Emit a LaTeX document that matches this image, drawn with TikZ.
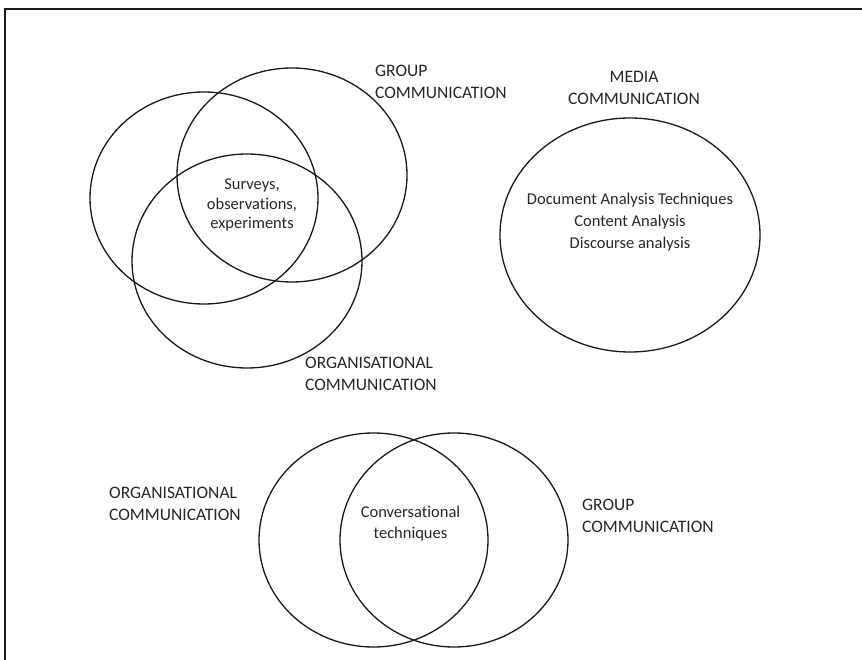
\documentclass[tikz,border=0pt]{standalone}
\usepackage{fontspec}
\setmainfont{Carlito}[Ligatures=NoCommon]
\usepackage{tikz}
\usetikzlibrary{positioning}

\tikzset{
  venn/.style={line width=1.3pt, black!90},
  label/.style={font=\fontsize{17.5}{22}\selectfont, align=left, anchor=north west, inner sep=0pt, text=black!85},
  inside/.style={font=\fontsize{16.5}{22}\selectfont, align=center, anchor=north, inner sep=0pt, text=black!85}
}

\begin{document}
\begin{tikzpicture}[x=1pt, y=-1pt]
				\useasboundingbox (0,0) rectangle (862,660);
				% frame
				\draw[line width=1.2pt, black!90] (5,660) -- (5,9) -- (862,9);
				% three-way venn
				\draw[venn] (204,198) ellipse (114 and 106);
				\draw[venn] (292,175) ellipse (115 and 107);
				\draw[venn] (247,261) ellipse (115 and 107);
				\node[inside, font=\fontsize{16.5}{19.5}\selectfont] (surveys) at (252,179) {Surveys,\\observations,\\experiments};
				\node[label] (grouptop) at (375,64.5) {GROUP\\COMMUNICATION};
				\node[label] (orgtop) at (305,356.5) {ORGANISATIONAL\\COMMUNICATION};
				% media
				\draw[venn] (630,235) ellipse (130 and 117);
				\node[label, align=center, anchor=north] (media) at (634,71.5) {MEDIA\\COMMUNICATION};
				\node[inside] (document) at (630,192.5) {Document Analysis Techniques\\Content Analysis\\Discourse analysis};
				% two-way venn
				\draw[venn] (373.5,540) ellipse (114.5 and 107);
				\draw[venn] (454,540) ellipse (114 and 107);
				\node[inside, font=\fontsize{16.5}{21}\selectfont] (conversation) at (410.5,505.5) {Conversational\\techniques};
				\node[label] (orgbottom) at (109,486.5) {ORGANISATIONAL\\COMMUNICATION};
				\node[label] (groupbottom) at (582,498.5) {GROUP\\COMMUNICATION};
			\end{tikzpicture}
\end{document}
